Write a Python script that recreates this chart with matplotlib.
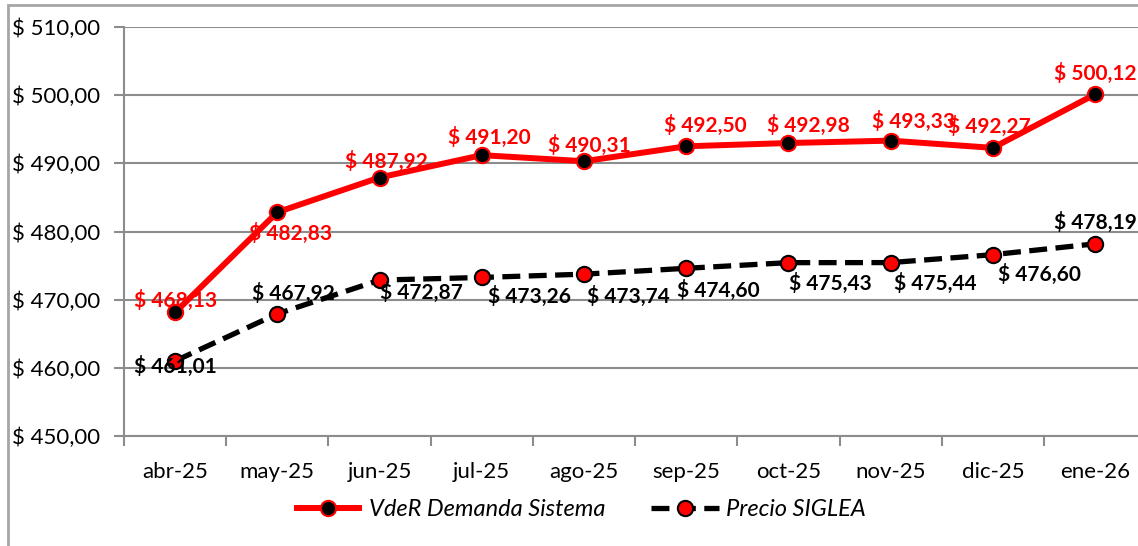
import matplotlib
matplotlib.use("Agg")
import matplotlib.pyplot as plt
from matplotlib.patches import Rectangle
from matplotlib.ticker import FixedLocator, FuncFormatter

months = ["abr-25", "may-25", "jun-25", "jul-25", "ago-25", "sep-25",
          "oct-25", "nov-25", "dic-25", "ene-26"]
vder = [468.13, 482.83, 487.92, 491.20, 490.31, 492.50, 492.98, 493.33, 492.27, 500.12]
siglea = [461.01, 467.92, 472.87, 473.26, 473.74, 474.60, 475.43, 475.44, 476.60, 478.19]
yticks = [450, 460, 470, 480, 490, 500, 510]

# label offsets in pixels (dx, dy)
vder_off = [(0, 12), (13, -21), (7, 16), (8, 18), (5, 16), (19, 21),
            (20, 18), (23, 19), (-3, 21), (0, 21)]
sig_off = [(0, -6), (16, 20), (42, -12), (48, -19), (44, -22), (32, -22),
           (42, -21), (45, -21), (47, -20), (0, 21)]

FONT = "Lato"
plt.rcParams["font.family"] = [FONT, "DejaVu Sans"]

def money(v):
    return "$ " + f"{v:.2f}".replace(".", ",")

fig = plt.figure(figsize=(11.38, 5.46), dpi=100)
ax = fig.add_axes([124/1138, 1-436/546, 1-124/1138, (436-27)/546])
x = list(range(len(months)))

gray = "#8c8c8c"
ax.set_ylim(450, 510)
ax.set_xlim(-0.5, 9.42)
ax.yaxis.set_major_locator(FixedLocator(yticks))
ax.yaxis.set_major_formatter(FuncFormatter(lambda v, p: money(v)))
ax.grid(axis="y", color=gray, linewidth=1.5, zorder=0)
ax.set_axisbelow(True)
for s in ["top", "right"]:
    ax.spines[s].set_visible(False)
for s in ["left", "bottom"]:
    ax.spines[s].set_color(gray)
    ax.spines[s].set_linewidth(1.5)

ax.set_xticks(x)
ax.set_xticklabels(months)
ax.set_xticks([i - 0.5 for i in range(len(months))], minor=True)
ax.tick_params(axis="x", which="major", length=0, pad=19, labelsize=16)
ax.tick_params(axis="x", which="minor", length=7, width=1.5, color=gray)
ax.tick_params(axis="y", length=7, width=1.5, color=gray, pad=10, labelsize=16)

ax.plot(x, vder, color="#ff0000", linewidth=4.3, marker="o", markersize=11,
        markerfacecolor="black", markeredgecolor="#ff0000", markeredgewidth=1.5,
        label="VdeR Demanda Sistema", zorder=3, solid_capstyle="butt")
ax.plot(x, siglea, color="black", linewidth=3.8, linestyle=(0, (3.4, 1.6)), marker="o",
        markersize=11, markerfacecolor="#ff0000", markeredgecolor="black",
        markeredgewidth=1.5, label="Precio SIGLEA", zorder=3)

for i, v in enumerate(vder):
    ax.annotate(money(v), (i, v), xytext=vder_off[i], textcoords="offset pixels",
                ha="center", va="center", color="#ff0000", fontsize=15,
                fontweight="bold", zorder=4)
for i, v in enumerate(siglea):
    ax.annotate(money(v), (i, v), xytext=sig_off[i], textcoords="offset pixels",
                ha="center", va="center", color="black", fontsize=15,
                fontweight="bold", zorder=4)

leg = fig.legend(loc="center", bbox_to_anchor=(580/1138, 1-510/546), ncol=2,
                 frameon=False, prop={"style": "italic", "size": 17},
                 handlelength=2.9, columnspacing=1.9, handletextpad=0.3)

fig.patches.append(Rectangle((8/1138, -0.1), 1.2, 1.1 - 5/546 + 0.0,
                             transform=fig.transFigure, fill=False,
                             edgecolor="#a6a6a6", linewidth=2, zorder=0))

fig.savefig("out.png", dpi=100)
